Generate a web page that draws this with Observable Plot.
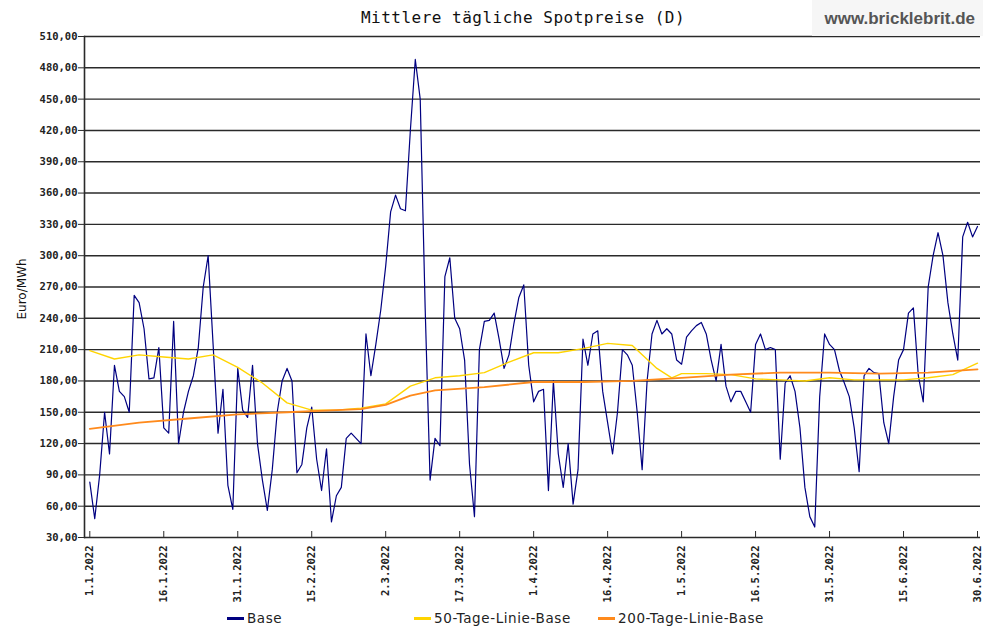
<!DOCTYPE html>
<html><head><meta charset="utf-8">
<script src="https://cdn.jsdelivr.net/npm/d3@7"></script>
<script src="https://cdn.jsdelivr.net/npm/@observablehq/plot@0.6"></script>
<style>
body{margin:0;background:#fff;}
#wrap{position:relative;width:983px;height:629px;overflow:hidden;background:#fff;}
#wrap svg{position:absolute;left:0;top:0;}
.title{position:absolute;left:0;width:1046px;top:8px;text-align:center;font-family:"DejaVu Sans Mono",monospace;font-size:16px;color:#111;letter-spacing:0.5px;}
.wm{position:absolute;left:812px;top:0;width:171px;height:36px;background:#f6f6f6;}
.wm span{position:absolute;right:8px;top:9px;font-family:"Liberation Sans",Arial,sans-serif;font-weight:bold;font-size:17px;color:#555;}
.ylab{position:absolute;left:22px;top:289px;transform:translate(-50%,-50%) rotate(-90deg);font-family:"DejaVu Sans",sans-serif;font-size:12px;color:#111;white-space:nowrap;}
.leg{position:absolute;top:610px;height:17px;line-height:17px;font-family:"DejaVu Sans",sans-serif;font-size:13.5px;letter-spacing:0.6px;color:#222;white-space:nowrap;display:flex;align-items:center;}
.leg i{display:inline-block;width:17px;height:3px;margin-right:3px;}
</style></head><body>
<div id="wrap"></div>
<script>
const title = "Mittlere tägliche Spotpreise (D)";
const yLabel = "Euro/MWh";
const seriesNames = ["Base", "50-Tage-Linie-Base", "200-Tage-Linie-Base"];
const seriesColors = ["#000080", "#ffd400", "#ff8a1c"];
const tickDays = [0, 15, 30, 45, 60, 75, 90, 105, 120, 135, 150, 165, 180];
const tickLabels = ["1.1.2022", "16.1.2022", "31.1.2022", "15.2.2022", "2.3.2022", "17.3.2022", "1.4.2022", "16.4.2022", "1.5.2022", "16.5.2022", "31.5.2022", "15.6.2022", "30.6.2022"];
const yTicks = [30, 60, 90, 120, 150, 180, 210, 240, 270, 300, 330, 360, 390, 420, 450, 480, 510];

// daily Base price, 1.1.2022 .. 30.6.2022 (day index 0..180)
const base = [
  83, 48, 90, 150, 110, 195, 170, 165, 150, 262,
  255, 230, 182, 183, 212, 135, 130, 237, 120, 150,
  170, 185, 212, 270, 300, 215, 130, 172, 80, 57,
  192, 152, 145, 195, 120, 85, 56, 95, 150, 180,
  192, 180, 92, 100, 135, 155, 105, 75, 115, 45,
  70, 78, 125, 130, 125, 120, 225, 185, 215, 248,
  290, 342, 358, 345, 343, 420, 488, 450, 250, 85,
  125, 118, 280, 298, 240, 230, 200, 100, 50, 210,
  237, 238, 245, 220, 192, 205, 235, 260, 272, 195,
  160, 170, 172, 75, 180, 110, 78, 120, 62, 95,
  220, 195, 225, 228, 170, 140, 110, 150, 210, 205,
  195, 150, 95, 180, 225, 238, 225, 230, 225, 200,
  196, 222, 228, 233, 236, 225, 200, 180, 215, 175,
  160, 170, 170, 160, 150, 215, 225, 210, 212, 210,
  105, 178, 185, 170, 135, 78, 50, 40, 165, 225,
  215, 210, 190, 178, 165, 135, 93, 185, 192, 188,
  187, 140, 120, 165, 200, 210, 245, 250, 185, 160,
  270, 300, 322, 300, 255, 225, 200, 318, 332, 318,
  328
];

// 50-day line, read at selected days
const ma50Days = [0, 5, 10, 15, 20, 25, 30, 35, 40, 45, 50, 55, 60, 65, 70, 75, 80, 85, 90, 95, 100, 105, 110, 115, 118, 120, 125, 130, 135, 140, 145, 150, 155, 160, 165, 170, 175, 180];
const ma50 = [209, 201, 205, 203, 201, 205, 193, 178, 159, 152, 152, 154, 158, 175, 183, 185, 188, 198, 207, 207, 211, 216, 214, 192, 183, 187, 187, 186, 182, 181, 180, 183, 181, 181, 181, 183, 186, 197];

// 200-day line, read at selected days
const ma200Days = [0, 10, 20, 30, 40, 50, 55, 60, 65, 70, 80, 90, 100, 110, 120, 130, 140, 150, 160, 170, 180];
const ma200 = [134, 140, 144, 148, 150, 152, 153, 157, 166, 171, 174, 179, 179, 180, 183, 186, 188, 188, 187, 188, 191];

const baseData = base.map((v, i) => ({day: i, value: v}));
const ma50Data = ma50Days.map((d, i) => ({day: d, value: ma50[i]}));
const ma200Data = ma200Days.map((d, i) => ({day: d, value: ma200[i]}));

const fmtY = d => d.toFixed(2).replace(".", ",");
const fmtX = d => tickLabels[tickDays.indexOf(d)];

const chart = Plot.plot({
  width: 983,
  height: 629,
  marginTop: 36,
  marginBottom: 92,
  marginLeft: 84,
  marginRight: 3,
  x: {domain: [0, 180], insetLeft: 5.3, insetRight: 3},
  y: {domain: [30, 510]},
  style: {background: "transparent"},
  marks: [
    Plot.ruleY(yTicks, {stroke: "#2a2a2a", strokeWidth: 1.4}),
    Plot.frame({anchor: "left", stroke: "#2a2a2a", strokeWidth: 1.6}),
    Plot.axisY({ticks: yTicks, tickSize: 6, tickPadding: 1, tickFormat: fmtY, label: null,
      fontFamily: "DejaVu Sans Mono, monospace", fontSize: 10.5, fontWeight: "bold", fill: "#222", stroke: "#2a2a2a"}),
    Plot.axisX({ticks: tickDays, tickSize: -6, tickPadding: 14, tickRotate: -90, tickFormat: fmtX, label: null,
      fontFamily: "DejaVu Sans Mono, monospace", fontSize: 10.5, fontWeight: "bold", fill: "#222", stroke: "#2a2a2a"}),
    Plot.line(baseData, {x: "day", y: "value", stroke: seriesColors[0], strokeWidth: 1.2}),
    Plot.line(ma50Data, {x: "day", y: "value", stroke: seriesColors[1], strokeWidth: 1.4}),
    Plot.line(ma200Data, {x: "day", y: "value", stroke: seriesColors[2], strokeWidth: 1.8})
  ]
});

const wrap = document.getElementById("wrap");
wrap.appendChild(chart);

const t = document.createElement("div"); t.className = "title"; t.textContent = title; wrap.appendChild(t);
const wm = document.createElement("div"); wm.className = "wm"; wm.innerHTML = "<span>www.bricklebrit.de</span>"; wrap.appendChild(wm);
const yl = document.createElement("div"); yl.className = "ylab"; yl.textContent = yLabel; wrap.appendChild(yl);
const legX = [227, 414, 598];
seriesNames.forEach((n, i) => {
  const d = document.createElement("div");
  d.className = "leg";
  d.style.left = legX[i] + "px";
  d.innerHTML = `<i style="background:${seriesColors[i]}"></i><span>${n}</span>`;
  wrap.appendChild(d);
});
</script>
</body></html>
